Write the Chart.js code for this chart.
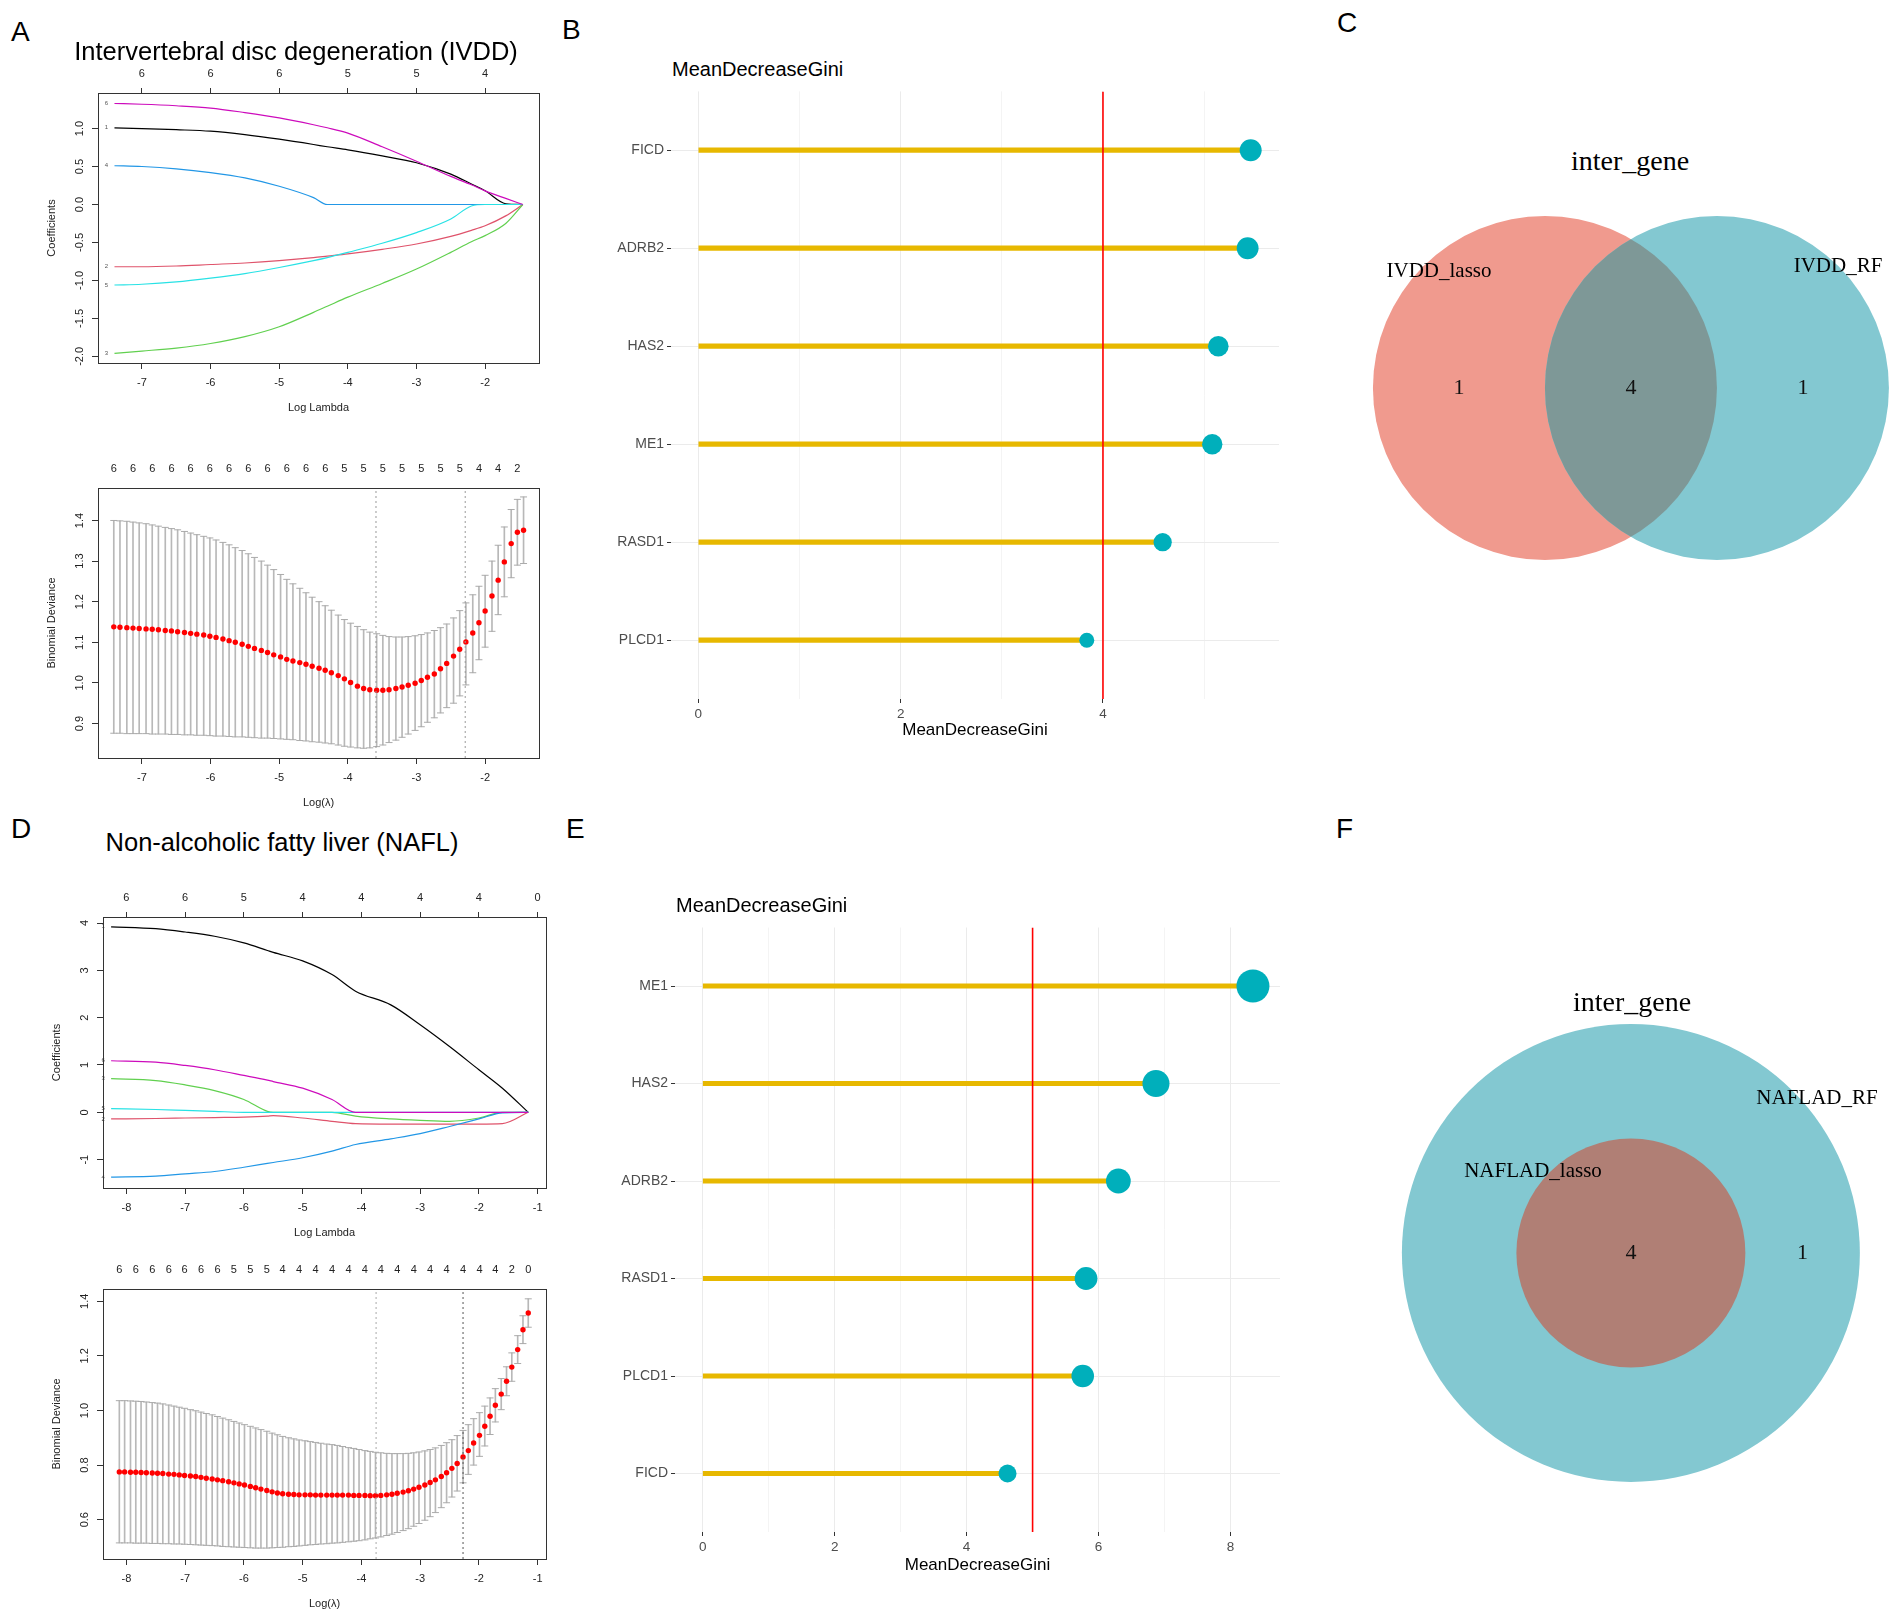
<!DOCTYPE html>
<html>
<head>
<meta charset="utf-8">
<script src="https://cdn.jsdelivr.net/npm/chart.js@4.4.1/dist/chart.umd.min.js"></script>
<style>
  body { margin: 0; background: #fff; }
  #page { position: relative; width: 1902px; height: 1621px; overflow: hidden; font-family: "Liberation Sans", Arial, sans-serif; }
  canvas { position: absolute; }
  .t { position: absolute; white-space: nowrap; line-height: 1; color: #000; z-index: 2; }
  .c { transform: translate(-50%, -50%); }
  .m { transform: translateY(-50%); }
  .letter { font-size: 28px; }
  .serif { font-family: "Liberation Serif", "Times New Roman", serif; }
</style>
</head>
<body>
<div id="page">
  <canvas id="pathA" width="560" height="352" style="left:0;top:63px"></canvas>
  <canvas id="cvA" width="560" height="352" style="left:0;top:458px"></canvas>
  <canvas id="giniB" width="740" height="661" style="left:560px;top:80px"></canvas>
  <canvas id="vennC" width="602" height="420" style="left:1300px;top:180px"></canvas>
  <canvas id="pathD" width="566" height="353" style="left:0;top:887px"></canvas>
  <canvas id="cvD" width="566" height="352" style="left:0;top:1259px"></canvas>
  <canvas id="giniE" width="740" height="665" style="left:560px;top:911px"></canvas>
  <canvas id="vennF" width="602" height="500" style="left:1300px;top:1000px"></canvas>

  <div class="t m letter" style="left:11px;top:32px">A</div>
  <div class="t m letter" style="left:562px;top:30px">B</div>
  <div class="t m letter" style="left:1337px;top:23px">C</div>
  <div class="t m letter" style="left:11px;top:829px">D</div>
  <div class="t m letter" style="left:566px;top:829px">E</div>
  <div class="t m letter" style="left:1336px;top:829px">F</div>

  <div class="t c" style="left:296px;top:52px;font-size:25.5px">Intervertebral disc degeneration (IVDD)</div>
  <div class="t c" style="left:282px;top:843px;font-size:25.5px">Non-alcoholic fatty liver (NAFL)</div>
  <div class="t m" style="left:672px;top:69px;font-size:20px">MeanDecreaseGini</div>
  <div class="t m" style="left:676px;top:905px;font-size:20px">MeanDecreaseGini</div>

  <div class="t c serif" style="left:1630px;top:161px;font-size:28px">inter_gene</div>
  <div class="t c serif" style="left:1439px;top:270px;font-size:21px">IVDD_lasso</div>
  <div class="t c serif" style="left:1838px;top:265px;font-size:21px">IVDD_RF</div>
  <div class="t c serif" style="left:1632px;top:1002px;font-size:28px">inter_gene</div>
  <div class="t c serif" style="left:1817px;top:1097px;font-size:21px">NAFLAD_RF</div>
  <div class="t c serif" style="left:1533px;top:1170px;font-size:21px">NAFLAD_lasso</div>
</div>

<script>
Chart.defaults.font.family = '"Liberation Sans", Arial, sans-serif';
Chart.defaults.animation = false;
Chart.defaults.events = [];
Chart.defaults.plugins.legend.display = false;
Chart.defaults.plugins.tooltip.enabled = false;

// ---------- data ----------

// A (top): lasso coefficient paths, IVDD
var pathA_x = [-7.4, -7, -6.5, -6, -5.5, -5, -4.5, -4.3, -4, -3.5, -3, -2.5, -2.2, -2, -1.7, -1.45];
var coefA1 = [1.01, 1.00, 0.985, 0.965, 0.92, 0.86, 0.79, 0.76, 0.72, 0.64, 0.55, 0.40, 0.27, 0.18, 0.01, 0];
var coefA2 = [-0.82, -0.82, -0.81, -0.79, -0.77, -0.74, -0.70, -0.68, -0.65, -0.59, -0.52, -0.42, -0.34, -0.28, -0.15, 0];
var coefA3 = [-1.96, -1.93, -1.89, -1.83, -1.74, -1.61, -1.42, -1.34, -1.22, -1.04, -0.85, -0.63, -0.49, -0.41, -0.25, 0];
var coefA4 = [0.51, 0.50, 0.47, 0.42, 0.35, 0.24, 0.09, 0, 0, 0, 0, 0, 0, 0, 0, 0];
var coefA5 = [-1.06, -1.05, -1.02, -0.97, -0.91, -0.83, -0.74, -0.70, -0.63, -0.51, -0.37, -0.19, -0.02, 0, 0, 0];
var coefA6 = [1.33, 1.32, 1.30, 1.27, 1.21, 1.14, 1.05, 1.01, 0.94, 0.76, 0.57, 0.37, 0.26, 0.18, 0.08, 0];
var pathA_xTicks = [-7, -6, -5, -4, -3, -2];
var pathA_yTicks = [-2, -1.5, -1, -0.5, 0, 0.5, 1];
var pathA_topTicks = [-7, -6, -5, -4, -3, -2];
var pathA_topLabels = [6, 6, 6, 5, 5, 4];

// A (bottom): cross-validation, IVDD
var cvA_lambda = [-7.41, -7.32, -7.22, -7.13, -7.04, -6.94, -6.85, -6.76, -6.66, -6.57,
  -6.48, -6.38, -6.29, -6.20, -6.10, -6.01, -5.92, -5.82, -5.73, -5.64,
  -5.54, -5.45, -5.36, -5.26, -5.17, -5.08, -4.98, -4.89, -4.80, -4.70,
  -4.61, -4.52, -4.42, -4.33, -4.24, -4.14, -4.05, -3.96, -3.86, -3.77,
  -3.68, -3.58, -3.49, -3.40, -3.30, -3.21, -3.12, -3.02, -2.93, -2.84,
  -2.74, -2.65, -2.56, -2.46, -2.37, -2.28, -2.18, -2.09, -2.00, -1.90,
  -1.81, -1.72, -1.62, -1.53, -1.44];
var cvA_mean = [1.138, 1.137, 1.136, 1.135, 1.134, 1.133, 1.132, 1.131, 1.129, 1.128,
  1.126, 1.124, 1.122, 1.120, 1.118, 1.115, 1.112, 1.108, 1.104, 1.100,
  1.095, 1.090, 1.085, 1.080, 1.075, 1.069, 1.064, 1.058, 1.054, 1.050,
  1.046, 1.041, 1.036, 1.031, 1.025, 1.018, 1.010, 1.001, 0.992, 0.986,
  0.983, 0.982, 0.982, 0.983, 0.986, 0.990, 0.994, 0.999, 1.006, 1.014,
  1.022, 1.035, 1.048, 1.066, 1.083, 1.101, 1.123, 1.148, 1.177, 1.214,
  1.253, 1.298, 1.343, 1.371, 1.376];
var cvA_upper = [1.400, 1.399, 1.398, 1.396, 1.394, 1.392, 1.389, 1.386, 1.383, 1.380,
  1.377, 1.373, 1.369, 1.365, 1.361, 1.357, 1.352, 1.346, 1.340, 1.333,
  1.326, 1.318, 1.309, 1.300, 1.290, 1.279, 1.267, 1.255, 1.244, 1.233,
  1.222, 1.211, 1.200, 1.190, 1.179, 1.167, 1.156, 1.147, 1.139, 1.131,
  1.125, 1.121, 1.117, 1.114, 1.113, 1.113, 1.114, 1.116, 1.119, 1.123,
  1.129, 1.136, 1.145, 1.160, 1.178, 1.197, 1.217, 1.238, 1.265, 1.300,
  1.339, 1.384, 1.427, 1.452, 1.458];
var cvA_lower = [0.876, 0.876, 0.875, 0.875, 0.875, 0.875, 0.874, 0.874, 0.874, 0.873,
  0.873, 0.872, 0.872, 0.871, 0.871, 0.870, 0.869, 0.869, 0.868, 0.867,
  0.867, 0.866, 0.865, 0.864, 0.864, 0.863, 0.862, 0.861, 0.860, 0.858,
  0.857, 0.855, 0.854, 0.852, 0.850, 0.847, 0.844, 0.842, 0.840, 0.839,
  0.840, 0.843, 0.847, 0.853, 0.859, 0.866, 0.874, 0.883, 0.892, 0.903,
  0.914, 0.926, 0.939, 0.950, 0.968, 0.995, 1.025, 1.057, 1.088, 1.127,
  1.168, 1.212, 1.259, 1.290, 1.294];
var cvA_topLabels = [6, 6, 6, 6, 6, 6, 6, 6, 6, 6, 6, 6, 5, 5, 5, 5, 5, 5, 5, 4, 4, 2];
var cvA_lambdaMin = -3.59;
var cvA_lambda1se = -2.29;
var cvA_yTicks = [0.9, 1.0, 1.1, 1.2, 1.3, 1.4];

// B: random forest importance, IVDD
var ivddGenes = ['FICD', 'ADRB2', 'HAS2', 'ME1', 'RASD1', 'PLCD1'];
var ivddGini = [5.46, 5.43, 5.14, 5.08, 4.59, 3.84];
var ivddGiniCut = 4;
var ivddGridTicks = [0, 1, 2, 3, 4, 5];
var ivddTickLabels = [0, 2, 4];

// C: Venn, IVDD
var vennC_counts = [1, 4, 1];

// D (top): lasso coefficient paths, NAFL
var pathD_x = [-8.26, -7.5, -7, -6.5, -6, -5.6, -5.5, -5, -4.5, -4.1, -3.5, -3, -2.5, -2, -1.6, -1.16];
var coefD1 = [3.92, 3.88, 3.81, 3.72, 3.58, 3.42, 3.38, 3.20, 2.91, 2.56, 2.27, 1.85, 1.39, 0.90, 0.51, 0];
var coefD2 = [-0.14, -0.13, -0.12, -0.11, -0.10, -0.08, -0.07, -0.12, -0.19, -0.24, -0.25, -0.25, -0.25, -0.25, -0.24, 0];
var coefD3 = [0.71, 0.67, 0.58, 0.46, 0.27, 0.02, 0, 0, 0, -0.08, -0.14, -0.17, -0.19, -0.12, 0, 0];
var coefD4 = [-1.37, -1.35, -1.30, -1.25, -1.16, -1.08, -1.06, -0.96, -0.82, -0.68, -0.56, -0.45, -0.30, -0.14, -0.01, 0];
var coefD5 = [0.08, 0.06, 0.04, 0.02, 0, 0, 0, 0, 0, 0, 0, 0, 0, 0, 0, 0];
var coefD6 = [1.09, 1.06, 0.99, 0.90, 0.78, 0.68, 0.65, 0.51, 0.27, 0, 0, 0, 0, 0, 0, 0];
var pathD_xTicks = [-8, -7, -6, -5, -4, -3, -2, -1];
var pathD_yTicks = [-1, 0, 1, 2, 3, 4];
var pathD_topTicks = [-8, -7, -6, -5, -4, -3, -2, -1];
var pathD_topLabels = [6, 6, 5, 4, 4, 4, 4, 0];

// D (bottom): cross-validation, NAFL
var cvD_lambda = [-8.12, -8.03, -7.93, -7.84, -7.75, -7.66, -7.56, -7.47, -7.38, -7.28,
  -7.19, -7.10, -7.01, -6.91, -6.82, -6.73, -6.64, -6.54, -6.45, -6.36,
  -6.26, -6.17, -6.08, -5.99, -5.89, -5.80, -5.71, -5.61, -5.52, -5.43,
  -5.34, -5.24, -5.15, -5.06, -4.96, -4.87, -4.78, -4.69, -4.59, -4.50,
  -4.41, -4.32, -4.22, -4.13, -4.04, -3.94, -3.85, -3.76, -3.67, -3.57,
  -3.48, -3.39, -3.29, -3.20, -3.11, -3.02, -2.92, -2.83, -2.74, -2.64,
  -2.55, -2.46, -2.37, -2.27, -2.18, -2.09, -1.99, -1.90, -1.81, -1.72,
  -1.62, -1.53, -1.44, -1.34, -1.25, -1.16];
var cvD_mean = [0.775, 0.775, 0.774, 0.774, 0.773, 0.772, 0.771, 0.770, 0.769, 0.767,
  0.766, 0.764, 0.762, 0.760, 0.758, 0.755, 0.752, 0.749, 0.746, 0.743,
  0.739, 0.735, 0.731, 0.727, 0.722, 0.717, 0.712, 0.707, 0.702, 0.698,
  0.695, 0.693, 0.692, 0.691, 0.691, 0.691, 0.690, 0.690, 0.690, 0.690,
  0.690, 0.690, 0.690, 0.689, 0.689, 0.689, 0.688, 0.688, 0.689, 0.691,
  0.693, 0.697, 0.701, 0.706, 0.712, 0.719, 0.727, 0.736, 0.746, 0.758,
  0.772, 0.788, 0.806, 0.830, 0.853, 0.881, 0.909, 0.942, 0.979, 1.019,
  1.060, 1.107, 1.159, 1.223, 1.296, 1.357];
var cvD_upper = [1.036, 1.036, 1.035, 1.034, 1.033, 1.031, 1.029, 1.027, 1.024, 1.020,
  1.016, 1.012, 1.008, 1.003, 0.999, 0.994, 0.989, 0.984, 0.978, 0.972,
  0.966, 0.960, 0.954, 0.948, 0.942, 0.936, 0.930, 0.924, 0.917, 0.911,
  0.905, 0.900, 0.896, 0.892, 0.889, 0.886, 0.883, 0.880, 0.877, 0.875,
  0.872, 0.868, 0.864, 0.861, 0.857, 0.853, 0.850, 0.847, 0.845, 0.843,
  0.842, 0.842, 0.842, 0.843, 0.845, 0.848, 0.852, 0.857, 0.863, 0.872,
  0.882, 0.893, 0.908, 0.927, 0.948, 0.970, 0.992, 1.016, 1.046, 1.080,
  1.117, 1.160, 1.211, 1.274, 1.347, 1.409];
var cvD_lower = [0.515, 0.515, 0.515, 0.514, 0.514, 0.514, 0.513, 0.513, 0.512, 0.512,
  0.511, 0.511, 0.510, 0.509, 0.508, 0.507, 0.506, 0.505, 0.504, 0.502,
  0.501, 0.500, 0.499, 0.498, 0.497, 0.496, 0.496, 0.496, 0.497, 0.498,
  0.499, 0.501, 0.502, 0.504, 0.506, 0.508, 0.509, 0.511, 0.512, 0.514,
  0.515, 0.517, 0.519, 0.521, 0.523, 0.526, 0.530, 0.533, 0.537, 0.542,
  0.547, 0.553, 0.560, 0.567, 0.576, 0.586, 0.598, 0.611, 0.626, 0.644,
  0.662, 0.683, 0.705, 0.735, 0.766, 0.800, 0.832, 0.870, 0.912, 0.958,
  1.003, 1.054, 1.107, 1.172, 1.245, 1.305];
var cvD_topLabels = [6, 6, 6, 6, 6, 6, 6, 5, 5, 5, 4, 4, 4, 4, 4, 4, 4, 4, 4, 4, 4, 4, 4, 4, 2, 0];
var cvD_lambdaMin = -3.75;
var cvD_lambda1se = -2.27;
var cvD_yTicks = [0.6, 0.8, 1.0, 1.2, 1.4];

// E: random forest importance, NAFL
var naflGenes = ['ME1', 'HAS2', 'ADRB2', 'RASD1', 'PLCD1', 'FICD'];
var naflGini = [8.34, 6.87, 6.30, 5.81, 5.76, 4.62];
var naflGiniCut = 5;
var naflGridTicks = [0, 1, 2, 3, 4, 5, 6, 7, 8];
var naflTickLabels = [0, 2, 4, 6, 8];

// F: Venn, NAFL
var vennF_counts = [4, 1];

// ---------- helpers ----------

var R_PALETTE = ['#000000', '#DF536B', '#61D04F', '#2297E6', '#28E2E5', '#CD0BBC'];

// box round the plot region, like base R
var rBox = {
  id: 'rBox',
  afterDraw: function (chart) {
    var a = chart.chartArea, ctx = chart.ctx;
    ctx.save();
    ctx.strokeStyle = '#333';
    ctx.lineWidth = 1;
    ctx.strokeRect(Math.round(a.left) + 0.5, Math.round(a.top) + 0.5,
      Math.round(a.right - a.left), Math.round(a.bottom - a.top));
    ctx.restore();
  }
};

// base R writes y tick labels parallel to the axis
var rYLabels = {
  id: 'rYLabels',
  afterDraw: function (chart, args, opts) {
    var s = chart.scales.y, ctx = chart.ctx;
    ctx.save();
    ctx.font = '11px "Liberation Sans", Arial, sans-serif';
    ctx.fillStyle = '#222';
    ctx.textAlign = 'center';
    ctx.textBaseline = 'middle';
    s.ticks.forEach(function (t) {
      ctx.save();
      ctx.translate(chart.chartArea.left - 18, s.getPixelForValue(t.value));
      ctx.rotate(-Math.PI / 2);
      ctx.fillText(t.value.toFixed(opts.digits), 0, 0);
      ctx.restore();
    });
    ctx.restore();
  }
};

// small path numbers at the left end of each coefficient line
var pathIds = {
  id: 'pathIds',
  afterDatasetsDraw: function (chart) {
    var ctx = chart.ctx, sx = chart.scales.x, sy = chart.scales.y;
    ctx.save();
    ctx.font = '6px "Liberation Sans", Arial, sans-serif';
    ctx.fillStyle = '#555';
    ctx.textAlign = 'center';
    ctx.textBaseline = 'middle';
    chart.data.datasets.forEach(function (ds) {
      var p = ds.data[0];
      ctx.fillText(ds.label, sx.getPixelForValue(p.x) - 8, sy.getPixelForValue(p.y));
    });
    ctx.restore();
  }
};

function fixedTicks(values) {
  return function (scale) {
    scale.ticks = values.map(function (v) { return { value: v }; });
  };
}

function rAxes(p) {
  return {
    x: {
      type: 'linear', min: p.xMin, max: p.xMax, offset: false,
      afterBuildTicks: fixedTicks(p.xTicks),
      ticks: { autoSkip: false, maxRotation: 0, padding: 7, color: '#222', font: { size: 11 },
        callback: function (v) { return String(v); } },
      grid: { offset: false, drawOnChartArea: false, color: '#333', tickLength: 6 },
      border: { display: false },
      title: { display: true, text: p.xTitle, color: '#222', font: { size: 11 }, padding: 0 },
      afterFit: function (s) { s.height = 52; }
    },
    xTop: {
      type: 'linear', position: 'top', min: p.xMin, max: p.xMax, offset: false,
      afterBuildTicks: fixedTicks(p.topTicks),
      ticks: { autoSkip: false, maxRotation: 0, padding: p.topMarks ? 7 : 12, color: '#222', font: { size: 11 },
        callback: function (v, i) { return String(p.topLabels[i]); } },
      grid: { offset: false, drawOnChartArea: false, drawTicks: p.topMarks, color: '#333', tickLength: 5 },
      border: { display: false },
      afterFit: function (s) { s.height = 30; }
    },
    y: {
      type: 'linear', min: p.yMin, max: p.yMax, offset: false,
      afterBuildTicks: fixedTicks(p.yTicks),
      ticks: { display: false },
      grid: { offset: false, drawOnChartArea: false, color: '#333', tickLength: 6 },
      border: { display: false },
      title: { display: true, text: p.yTitle, color: '#222', font: { size: 11 },
        padding: { top: p.boxLeft - 53, bottom: 0 } },
      afterFit: function (s) { s.width = p.boxLeft; }
    }
  };
}

function createPathChart(canvasId, xs, lines, p) {
  var datasets = lines.map(function (ys, k) {
    return {
      label: String(k + 1),
      data: xs.map(function (x, j) { return { x: x, y: ys[j] }; }),
      showLine: true,
      borderColor: R_PALETTE[k],
      borderWidth: 1.2,
      pointRadius: 0,
      cubicInterpolationMode: 'monotone',
      order: lines.length - k
    };
  });
  new Chart(document.getElementById(canvasId), {
    type: 'scatter',
    data: { datasets: datasets },
    options: {
      responsive: false,
      layout: { padding: { right: p.rightPad } },
      scales: rAxes(p),
      plugins: { rYLabels: { digits: p.yDigits } }
    },
    plugins: [rBox, rYLabels, pathIds]
  });
}

function createCvChart(canvasId, lambda, mean, upper, lower, p) {
  var pts = function (ys) {
    return lambda.map(function (x, i) { return { x: x, y: ys[i] }; });
  };
  p.topTicks = p.topLabels.map(function (l, k) { return lambda[3 * k]; });
  var vline = function (v, color) {
    return { type: 'line', data: [{ x: v, y: p.yMin }, { x: v, y: p.yMax }],
      borderColor: color, borderWidth: 1, borderDash: [2, 3], pointRadius: 0, order: 0 };
  };
  new Chart(document.getElementById(canvasId), {
    type: 'scatter',
    data: {
      datasets: [
        vline(p.lambdaMin, p.minColor),
        vline(p.lambda1se, p.seColor),
        { data: pts(mean), pointRadius: 2.7, backgroundColor: '#FF0000', borderWidth: 0, order: 1 },
        { data: pts(upper), pointStyle: 'line', pointRadius: 3.5, borderColor: '#ABABAB', borderWidth: 1, order: 2 },
        { data: pts(lower), pointStyle: 'line', pointRadius: 3.5, borderColor: '#ABABAB', borderWidth: 1, order: 2 },
        { type: 'bar', data: lambda.map(function (x, i) { return { x: x, y: [lower[i], upper[i]] }; }),
          barThickness: 1, backgroundColor: '#B8B8B8', order: 3 }
      ]
    },
    options: {
      responsive: false,
      layout: { padding: { right: p.rightPad } },
      scales: rAxes(p),
      plugins: { rYLabels: { digits: p.yDigits } }
    },
    plugins: [rBox, rYLabels]
  });
}

function createGiniChart(canvasId, genes, values, cut, gridTicks, tickLabels, p) {
  var vmin = Math.min.apply(null, values), vmax = Math.max.apply(null, values);
  var yMin = -0.6, yMax = genes.length - 0.4;
  var rows = genes.map(function (g, i) { return { x: values[i], y: i }; });
  var isLabelled = function (v) { return tickLabels.indexOf(v) >= 0; };
  new Chart(document.getElementById(canvasId), {
    type: 'scatter',
    data: {
      datasets: [
        { data: rows, backgroundColor: '#00AFBB', borderWidth: 0, order: 0,
          pointRadius: function (c) {
            return p.rMin + (c.raw.x - vmin) / (vmax - vmin) * (p.rMax - p.rMin);
          } },
        { type: 'line', data: [{ x: cut, y: yMin }, { x: cut, y: yMax }],
          borderColor: '#FF0000', borderWidth: 1.6, pointRadius: 0, order: 1 },
        { type: 'bar', indexAxis: 'y', data: rows, backgroundColor: '#E7B800',
          barThickness: 4.5, order: 2 }
      ]
    },
    options: {
      responsive: false,
      layout: { padding: { top: p.padTop, right: p.rightPad } },
      scales: {
        x: {
          type: 'linear', min: p.xMin, max: p.xMax, offset: false,
          afterBuildTicks: fixedTicks(gridTicks),
          ticks: { autoSkip: false, maxRotation: 0, padding: 3, color: '#4D4D4D', font: { size: 13.5 },
            callback: function (v) { return isLabelled(v) ? String(v) : ''; } },
          grid: {
            offset: false,
            color: function (c) { return c.tick && !isLabelled(c.tick.value) ? '#F4F4F4' : '#EBEBEB'; },
            tickColor: function (c) { return c.tick && !isLabelled(c.tick.value) ? 'rgba(0,0,0,0)' : '#333'; },
            tickLength: 4
          },
          border: { display: false },
          title: { display: true, text: 'MeanDecreaseGini', color: '#000', font: { size: 17 }, padding: 0 },
          afterFit: function (s) { s.height = p.xAxisH; }
        },
        y: {
          type: 'linear', min: yMin, max: yMax, reverse: true, offset: false,
          afterBuildTicks: fixedTicks(genes.map(function (g, i) { return i; })),
          ticks: { autoSkip: false, padding: 3, color: '#4D4D4D', font: { size: 14 },
            callback: function (v) { return genes[v]; } },
          grid: { offset: false, color: '#EBEBEB', tickColor: '#333', tickLength: 4 },
          border: { display: false },
          afterFit: function (s) { s.width = p.yAxisW; }
        }
      }
    }
  });
}

var vennPlugin = {
  id: 'venn',
  afterDatasetsDraw: function (chart, args, opts) {
    var ctx = chart.ctx, sx = chart.scales.x, sy = chart.scales.y;
    if (opts.overlapColor) {
      var a = chart.getDatasetMeta(0).data[0], b = chart.getDatasetMeta(1).data[0];
      ctx.save();
      ctx.beginPath();
      ctx.arc(a.x, a.y, a.options.radius, 0, Math.PI * 2);
      ctx.clip();
      ctx.beginPath();
      ctx.arc(b.x, b.y, b.options.radius, 0, Math.PI * 2);
      ctx.fillStyle = opts.overlapColor;
      ctx.fill();
      ctx.restore();
    }
    ctx.save();
    ctx.font = '22px "Liberation Serif", "Times New Roman", serif';
    ctx.fillStyle = '#111';
    ctx.textAlign = 'center';
    ctx.textBaseline = 'middle';
    opts.counts.forEach(function (n, i) {
      ctx.fillText(String(n), sx.getPixelForValue(opts.countX[i]), sy.getPixelForValue(0));
    });
    ctx.restore();
  }
};

function createVenn(canvasId, circles, colors, p) {
  var pxRadius = function (c) {
    var s = c.chart.scales.x;
    return s.getPixelForValue(c.raw.r) - s.getPixelForValue(0);
  };
  new Chart(document.getElementById(canvasId), {
    type: 'scatter',
    data: {
      datasets: circles.map(function (c, i) {
        return { data: [c], backgroundColor: colors[i], borderWidth: 0, pointRadius: pxRadius,
          order: circles.length - i };
      })
    },
    options: {
      responsive: false,
      layout: { padding: 0 },
      scales: {
        x: { type: 'linear', display: false, min: p.xMin, max: p.xMax },
        y: { type: 'linear', display: false, min: p.yMin, max: p.yMax }
      },
      plugins: { venn: { counts: p.counts, countX: p.countX, overlapColor: p.overlapColor } }
    },
    plugins: [vennPlugin]
  });
}

// ---------- panels ----------

// A, coefficient paths
createPathChart('pathA', pathA_x, [coefA1, coefA2, coefA3, coefA4, coefA5, coefA6], {
  xMin: -7.64, xMax: -1.215, yMin: -2.087, yMax: 1.468,
  xTicks: pathA_xTicks, yTicks: pathA_yTicks, yDigits: 1,
  topTicks: pathA_topTicks, topLabels: pathA_topLabels, topMarks: true,
  xTitle: 'Log Lambda', yTitle: 'Coefficients', boxLeft: 98, rightPad: 21
});

// A, cross-validation curve
createCvChart('cvA', cvA_lambda, cvA_mean, cvA_upper, cvA_lower, {
  xMin: -7.64, xMax: -1.215, yMin: 0.815, yMax: 1.48,
  xTicks: pathA_xTicks, yTicks: cvA_yTicks, yDigits: 1,
  topLabels: cvA_topLabels, topMarks: false,
  lambdaMin: cvA_lambdaMin, lambda1se: cvA_lambda1se, minColor: '#999999', seColor: '#999999',
  xTitle: 'Log(\u03bb)', yTitle: 'Binomial Deviance', boxLeft: 98, rightPad: 21
});

// B
createGiniChart('giniB', ivddGenes, ivddGini, ivddGiniCut, ivddGridTicks, ivddTickLabels, {
  xMin: -0.27, xMax: 5.74, rMin: 7.5, rMax: 11,
  padTop: 9, rightPad: 21, yAxisW: 111, xAxisH: 42
});

// C
createVenn('vennC', [{ x: -0.5, y: 0, r: 1 }, { x: 0.5, y: 0, r: 1 }], ['#F09A8E', '#83C8D1'], {
  xMin: -1.924, xMax: 1.576, yMin: -1.233, yMax: 1.209,
  counts: vennC_counts, countX: [-1, 0, 1], overlapColor: '#7E9897'
});

// D, coefficient paths
createPathChart('pathD', pathD_x, [coefD1, coefD2, coefD3, coefD4, coefD5, coefD6], {
  xMin: -8.398, xMax: -0.858, yMin: -1.599, yMax: 4.127,
  xTicks: pathD_xTicks, yTicks: pathD_yTicks, yDigits: 0,
  topTicks: pathD_topTicks, topLabels: pathD_topLabels, topMarks: true,
  xTitle: 'Log Lambda', yTitle: 'Coefficients', boxLeft: 103, rightPad: 20
});

// D, cross-validation curve
createCvChart('cvD', cvD_lambda, cvD_mean, cvD_upper, cvD_lower, {
  xMin: -8.398, xMax: -0.858, yMin: 0.456, yMax: 1.445,
  xTicks: pathD_xTicks, yTicks: cvD_yTicks, yDigits: 1,
  topLabels: cvD_topLabels, topMarks: false,
  lambdaMin: cvD_lambdaMin, lambda1se: cvD_lambda1se, minColor: '#AAAAAA', seColor: '#555555',
  xTitle: 'Log(\u03bb)', yTitle: 'Binomial Deviance', boxLeft: 103, rightPad: 20
});

// E
createGiniChart('giniE', naflGenes, naflGini, naflGiniCut, naflGridTicks, naflTickLabels, {
  xMin: -0.42, xMax: 8.75, rMin: 9, rMax: 16.5,
  padTop: 10, rightPad: 20, yAxisW: 115, xAxisH: 44
});

// F
createVenn('vennF', [{ x: 0, y: 0, r: 1 }, { x: 0, y: 0, r: 0.5 }], ['#83C8D1', '#B07F75'], {
  xMin: -1.445, xMax: 1.184, yMin: -1.079, yMax: 1.105,
  counts: vennF_counts, countX: [0, 0.75], overlapColor: null
});
</script>
</body>
</html>
